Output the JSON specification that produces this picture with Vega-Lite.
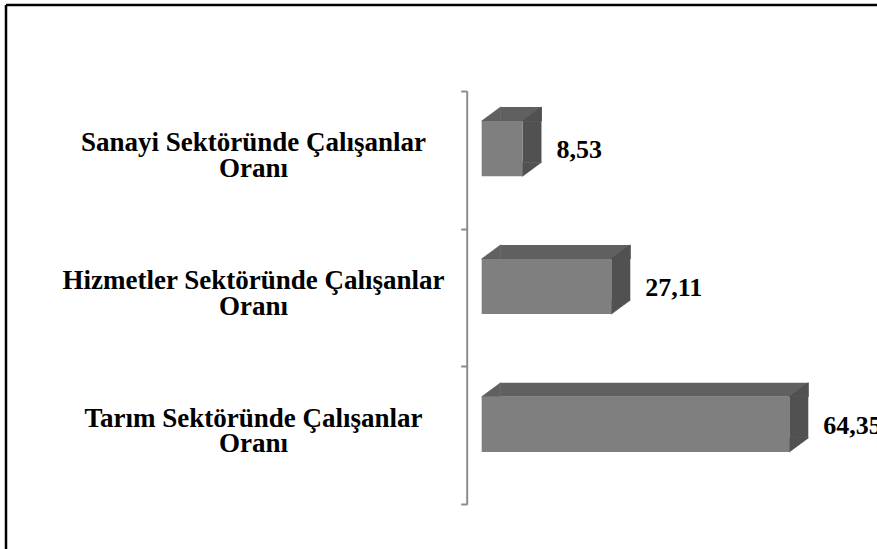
{
  "$schema": "https://vega.github.io/schema/vega-lite/v6.json",
  "width": 871,
  "height": 544,
  "autosize": {"type": "none"},
  "padding": {"left": 6, "top": 5, "right": 0, "bottom": 0},
  "background": "white",
  "config": {
    "font": "Liberation Serif",
    "view": {"stroke": "black", "strokeWidth": 2.5, "strokeDash": [871, 1415, 544, 0]},
    "locale": {"number": {"decimal": ",", "thousands": ".", "grouping": [3], "currency": ["", " TL"]}}
  },
  "data": {
    "values": [
      {"sector": "Sanayi Sektöründe Çalışanlar Oranı", "value": 8.53},
      {"sector": "Hizmetler Sektöründe Çalışanlar Oranı", "value": 27.11},
      {"sector": "Tarım Sektöründe Çalışanlar Oranı", "value": 64.35}
    ]
  },
  "encoding": {
    "y": {
      "field": "sector",
      "type": "nominal",
      "sort": null,
      "scale": {"range": [85.7, 499.3], "paddingInner": 0, "paddingOuter": 0},
      "axis": {
        "title": null,
        "offset": -460.7,
        "domainColor": "#8c8c8c",
        "domainWidth": 2,
        "tickColor": "#8c8c8c",
        "tickWidth": 2,
        "tickSize": 6,
        "tickBand": "extent",
        "labelAlign": "center",
        "labelPadding": 207.7,
        "labelFont": "Liberation Serif",
        "labelFontSize": 27,
        "labelFontWeight": "bold",
        "labelColor": "black",
        "labelLineHeight": 25.5,
        "labelBaseline": "middle",
        "labelOffset": -17,
        "labelLimit": 0,
        "labelOverlap": false,
        "labelBound": false,
        "labelExpr": "[slice(datum.label, 0, lastindexof(datum.label, ' ')), slice(datum.label, lastindexof(datum.label, ' ') + 1)]"
      }
    }
  },
  "layer": [
    {
      "mark": {"type": "bar", "color": "#606060", "height": 14, "xOffset": 19, "x2Offset": 19, "yOffset": -45.6},
      "encoding": {
        "x": {"field": "value", "type": "quantitative", "scale": {"domain": [-99.519, 82.699], "nice": false, "zero": false}, "axis": null},
        "x2": {"datum": 0}
      }
    },
    {
      "mark": {"type": "bar", "color": "#515151", "height": 41.15, "xOffset": 0, "x2Offset": 19, "yOffset": -18},
      "encoding": {
        "x": {"field": "value", "type": "quantitative"},
        "x2": {"field": "value"}
      }
    },
    {
      "mark": {"type": "point", "shape": "M-1,0.737L1,-0.737L1,0.737Z", "size": 361, "filled": true, "opacity": 1, "color": "#606060", "stroke": "#606060", "strokeWidth": 0.8, "xOffset": 9.5, "yOffset": -45.6},
      "encoding": {
        "x": {"datum": 0, "type": "quantitative"}
      }
    },
    {
      "mark": {"type": "point", "shape": "M-1,0.737L1,-0.737L1,0.737Z", "size": 361, "filled": true, "opacity": 1, "color": "#515151", "stroke": "#515151", "strokeWidth": 0.8, "xOffset": 9.5, "yOffset": -45.6},
      "encoding": {
        "x": {"field": "value", "type": "quantitative"}
      }
    },
    {
      "mark": {"type": "point", "shape": "M-1,-0.737L1,-0.737L-1,0.737Z", "size": 361, "filled": true, "opacity": 1, "color": "#515151", "stroke": "#515151", "strokeWidth": 0.8, "xOffset": 9.5, "yOffset": 9.57},
      "encoding": {
        "x": {"field": "value", "type": "quantitative"}
      }
    },
    {
      "mark": {"type": "bar", "color": "#7f7f7f", "height": {"band": 0.4}, "yOffset": -11},
      "encoding": {
        "x": {"field": "value", "type": "quantitative"},
        "x2": {"datum": 0}
      }
    },
    {
      "mark": {"type": "text", "align": "left", "baseline": "middle", "dx": 34, "yOffset": -9.5, "font": "Liberation Serif", "fontSize": 26, "fontWeight": "bold", "color": "black"},
      "encoding": {
        "x": {"field": "value", "type": "quantitative"},
        "text": {"field": "value", "type": "quantitative", "format": ".2f"}
      }
    }
  ]
}
